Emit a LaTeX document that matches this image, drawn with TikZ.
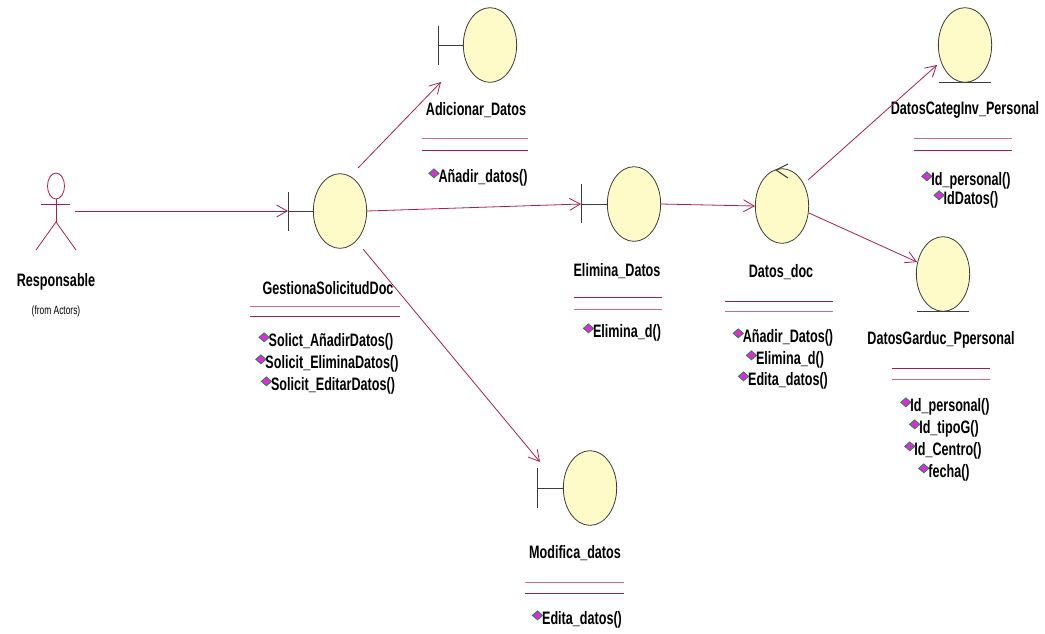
\documentclass[tikz,border=0pt]{standalone}
\usepackage{fontspec}
\setmainfont{Liberation Sans}[FakeStretch=0.7]
\usetikzlibrary{shapes.geometric,arrows.meta}

\begin{document}
\begin{tikzpicture}[x=0.75pt,y=0.75pt,yscale=-1,xscale=1,
  obj/.style={ellipse, draw={rgb,255:red,60;green,60;blue,60}, line width=0.6, fill={rgb,255:red,255;green,251;blue,200}, minimum width=40pt, minimum height=56pt, inner sep=0pt},
  bnd/.style={draw={rgb,255:red,60;green,60;blue,60}, line width=0.75},
  actor/.style={draw={rgb,255:red,170;green,30;blue,80}, line width=0.6},
  msg/.style={draw={rgb,255:red,170;green,30;blue,80}, line width=0.6, -{Straight Barb[length=8pt,width=9pt]}},
  cmpA/.style={draw={rgb,255:red,205;green,105;blue,145}, line width=0.6},
  cmpB/.style={draw={rgb,255:red,160;green,30;blue,75}, line width=0.6},
  lbl/.style={inner sep=0.75pt, font=\fontsize{13.5}{15}\selectfont\bfseries},
  small/.style={inner sep=0.75pt, font=\fontsize{9}{10}\selectfont},
  opmark/.style={diamond, fill={rgb,255:red,225;green,40;blue,225}, draw={rgb,255:red,0;green,150;blue,40}, line width=0.5, minimum width=8pt, minimum height=7pt, inner sep=0pt},
  op/.style={inner sep=1pt, font=\fontsize{13.5}{15}\selectfont\bfseries, label={[opmark, anchor=east, yshift=3.5pt, xshift=2pt]west:{}}}
]
\path[use as bounding box] (0,0) rectangle (1045,633);

%Actor Responsable
\draw[actor] (56,186) ellipse (8.5 and 13);
\draw[actor] (41,204) -- (70,204);
\draw[actor] (56,199) -- (56,222);
\draw[actor] (36,250) -- (56,222) -- (76,250);
\coordinate (resp) at (75,211);
% Text Node
\node[lbl] (respName) at (56,282) {Responsable};
% Text Node
\node[small] (respFrom) at (56,311) {(from Actors)};

%Boundary GestionaSolicitudDoc
\node[obj] (gest) at (340,211) {};
\coordinate (gestB) at (288,211);
\draw[bnd] (288,192) -- (288,231);
\draw[bnd] (gestB) -- (gest.west);
\node[lbl] (gestName) at (328,288) {GestionaSolicitudDoc};
\draw[cmpA] (250,306) -- (400,306);
\draw[cmpB] (250,316) -- (400,316);
\node[op] (gestOp1) at (331,342) {Solict\_AñadirDatos()};
\node[op] (gestOp2) at (332,364) {Solicit\_EliminaDatos()};
\node[op] (gestOp3) at (333,386) {Solicit\_EditarDatos()};

%Boundary Adicionar_Datos
\node[obj] (adic) at (490,45) {};
\coordinate (adicB) at (438,45);
\draw[bnd] (438,26) -- (438,65);
\draw[bnd] (adicB) -- (adic.west);
\node[lbl] (adicName) at (476,110) {Adicionar\_Datos};
\draw[cmpA] (422,138) -- (528,138);
\draw[cmpB] (422,150) -- (528,150);
\node[op] (adicOp1) at (483,178) {Añadir\_datos()};

%Boundary Elimina_Datos
\node[obj] (elim) at (634,204) {};
\coordinate (elimB) at (581,204);
\draw[bnd] (581,184) -- (581,223);
\draw[bnd] (elimB) -- (elim.west);
\node[lbl] (elimName) at (617,271) {Elimina\_Datos};
\draw[cmpB] (574,297) -- (662,297);
\draw[cmpA] (574,309) -- (662,309);
\node[op] (elimOp1) at (627,333) {Elimina\_d()};

%Control Datos_doc
\node[obj] (datos) at (782,206) {};
\draw[bnd] (788,164) -- (776,170) -- (788,178);
\node[lbl] (datosName) at (781,272) {Datos\_doc};
\draw[cmpB] (725,301) -- (833,301);
\draw[cmpA] (725,311) -- (833,311);
\node[op] (datosOp1) at (788,338) {Añadir\_Datos()};
\node[op] (datosOp2) at (790,360) {Elimina\_d()};
\node[op] (datosOp3) at (788,381) {Edita\_datos()};

%Entity DatosCategInv_Personal
\node[obj] (cinv) at (965,45) {};
\draw[bnd] (939,82) -- (991,82);
\node[lbl] (cinvName) at (965,110) {DatosCategInv\_Personal};
\draw[cmpA] (914,138) -- (1012,138);
\draw[cmpB] (914,150) -- (1012,150);
\node[op] (cinvOp1) at (971,181) {Id\_personal()};
\node[op] (cinvOp2) at (971,200) {IdDatos()};

%Entity DatosGarduc_Ppersonal
\node[obj] (gard) at (943,274) {};
\draw[bnd] (917,311) -- (969,311);
\node[lbl] (gardName) at (941,340) {DatosGarduc\_Ppersonal};
\draw[cmpB] (892,368) -- (990,368);
\draw[cmpA] (892,379) -- (990,379);
\node[op] (gardOp1) at (950,407) {Id\_personal()};
\node[op] (gardOp2) at (949,429) {Id\_tipoG()};
\node[op] (gardOp3) at (948,451) {Id\_Centro()};
\node[op] (gardOp4) at (949,473) {fecha()};

%Boundary Modifica_datos
\node[obj] (modi) at (590,488) {};
\coordinate (modiB) at (537,488);
\draw[bnd] (537,468) -- (537,508);
\draw[bnd] (modiB) -- (modi.west);
\node[lbl] (modiName) at (575,553) {Modifica\_datos};
\draw[cmpA] (525,582) -- (624,582);
\draw[cmpB] (525,593) -- (624,593);
\node[op] (modiOp1) at (582,620) {Edita\_datos()};

%Links
\coordinate (gestUp) at (358,168);
\coordinate (adicIn) at (441,82);
\coordinate (gestDn) at (363,249);
\coordinate (modiIn) at (540,462);
\coordinate (datosUp) at (808,180);
\coordinate (cinvIn) at (937,65);
\coordinate (datosDn) at (809,213);
\coordinate (gardIn) at (917,262);
\draw[msg] (resp) -- (gestB);
\draw[msg] (gestUp) -- (adicIn);
\draw[msg] (gest.east) -- (elimB);
\draw[msg] (gestDn) -- (modiIn);
\draw[msg] (elim.east) -- (datos.west);
\draw[msg] (datosUp) -- (cinvIn);
\draw[msg] (datosDn) -- (gardIn);

\end{tikzpicture}
\end{document}
